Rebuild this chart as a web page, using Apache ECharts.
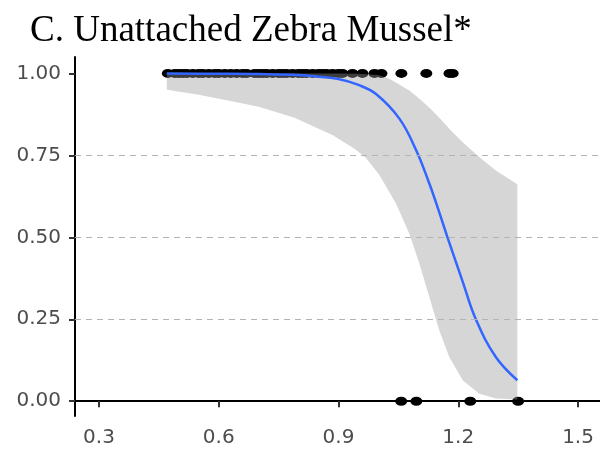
<!DOCTYPE html>
<html>
<head>
<meta charset="utf-8">
<script src="https://cdn.jsdelivr.net/npm/echarts@6/dist/echarts.min.js"></script>
<style>html,body{margin:0;padding:0;background:#fff;}#c{width:600px;height:449px;}</style>
</head>
<body>
<div id="c"></div>
<script>
// Observed points (presence = 1, absence = 0)
const pointsX1 = [0.4725, 0.49, 0.50, 0.51, 0.52, 0.535, 0.55, 0.56, 0.575, 0.59, 0.60, 0.615, 0.63, 0.645, 0.66, 0.67,
  0.69, 0.70, 0.71, 0.72, 0.735, 0.75, 0.76, 0.77, 0.785, 0.80, 0.81, 0.82, 0.835, 0.85, 0.86, 0.87, 0.885, 0.90, 0.91,
  0.935, 0.96, 0.99, 1.0075, 1.0575, 1.12, 1.178, 1.186];
const pointsX0 = [1.057, 1.095, 1.23, 1.35];

// Fitted logistic curve
const curveX = [0.47, 0.60, 0.70, 0.80, 0.85, 0.90, 0.95, 0.994, 1.0525, 1.094, 1.1275, 1.15, 1.173, 1.211, 1.244, 1.294, 1.348];
const curveY = [0.9995, 0.999, 0.998, 0.995, 0.990, 0.983, 0.965, 0.937, 0.862, 0.767, 0.664, 0.585, 0.50, 0.365, 0.25, 0.135, 0.064];

// Confidence band edges
const upperX = [0.47, 0.90, 0.95, 1.0, 1.0275, 1.05, 1.0775, 1.105, 1.135, 1.16, 1.185, 1.22, 1.2525, 1.294, 1.348];
const upperY = [1.0, 1.0, 0.999, 0.995, 0.984, 0.968, 0.948, 0.92, 0.887, 0.855, 0.821, 0.78, 0.745, 0.704, 0.662];
const lowerX = [0.47, 0.55, 0.62, 0.70, 0.79, 0.886, 0.94, 0.969, 1.0025, 1.044, 1.0775, 1.1025, 1.1275, 1.1525, 1.1775, 1.211, 1.2525, 1.294, 1.348];
const lowerY = [0.950, 0.935, 0.918, 0.898, 0.865, 0.811, 0.77, 0.742, 0.69, 0.603, 0.511, 0.42, 0.318, 0.216, 0.135, 0.064, 0.023, 0.008, 0.005];

const xTicks = [0.3, 0.6, 0.9, 1.2, 1.5];
const yTicks = [0, 0.25, 0.5, 0.75, 1];
const gridLevels = [0.25, 0.5, 0.75];
const titleText = 'C. Unattached Zebra Mussel*';

const chart = echarts.init(document.getElementById('c'), null, {renderer: 'canvas'});

const scatterData = pointsX1.map(x => [x, 1]).concat(pointsX0.map(x => [x, 0]));
const lineData = curveX.map((x, i) => [x, curveY[i]]);

chart.setOption({
  animation: false,
  backgroundColor: '#ffffff',
  title: {
    text: titleText,
    left: 25, top: 8,
    textStyle: {fontFamily: 'Liberation Serif', fontWeight: 'normal', fontSize: 37, color: '#000'}
  },
  grid: {left: 75, right: 0, top: 57, bottom: 33, containLabel: false},
  xAxis: {
    type: 'value', min: 0.24, max: 1.555,
    axisLine: {show: true, lineStyle: {color: '#000', width: 2}},
    axisTick: {show: true, customValues: xTicks, length: 6, lineStyle: {color: '#333', width: 2}},
    axisLabel: {customValues: xTicks, formatter: v => v.toFixed(1), color: '#4d4d4d', fontFamily: 'DejaVu Sans', fontSize: 20, margin: 12},
    splitLine: {show: false}
  },
  yAxis: {
    type: 'value', min: -0.045, max: 1.05,
    axisLine: {show: true, lineStyle: {color: '#000', width: 2}},
    axisTick: {show: true, customValues: yTicks, length: 6, lineStyle: {color: '#333', width: 2}},
    axisLabel: {customValues: yTicks, formatter: v => v.toFixed(2), color: '#4d4d4d', fontFamily: 'DejaVu Sans', fontSize: 20, margin: 14},
    splitLine: {show: false}
  },
  series: [
    {
      type: 'scatter', data: scatterData, symbol: 'circle', symbolSize: [12, 9],
      itemStyle: {color: '#000', opacity: 1}, z: 2,
      markLine: {
        silent: true, symbol: 'none', label: {show: false},
        lineStyle: {color: '#b3b3b3', type: [6, 5], width: 1.2},
        data: gridLevels.map(v => ({yAxis: v}))
      }
    },
    {
      type: 'custom', z: 3, silent: true,
      data: [[upperX[0], upperY[0]]],
      renderItem: function (params, api) {
        const pts = [];
        for (let i = 0; i < upperX.length; i++) pts.push(api.coord([upperX[i], upperY[i]]));
        for (let i = lowerX.length - 1; i >= 0; i--) pts.push(api.coord([lowerX[i], lowerY[i]]));
        return {type: 'polygon', shape: {points: pts}, style: {fill: 'rgba(153,153,153,0.4)'}};
      }
    },
    {
      type: 'line', data: lineData, smooth: 0.4, showSymbol: false, z: 4,
      lineStyle: {color: '#3366FF', width: 2.5}
    }
  ]
});
</script>
</body>
</html>
